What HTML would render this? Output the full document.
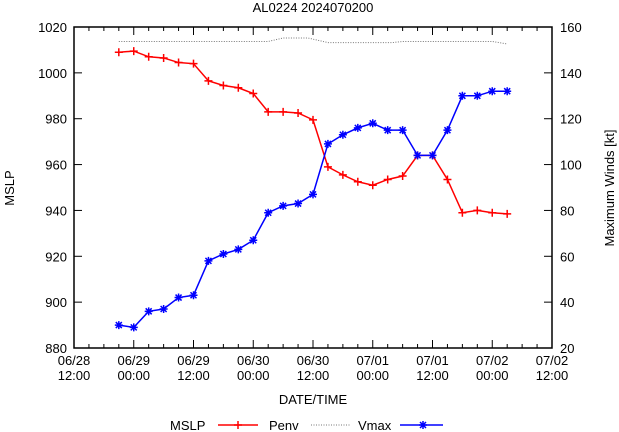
<!DOCTYPE html><html><head><style>body{margin:0;background:#fff}svg{display:block;font-family:"Liberation Sans",sans-serif;font-size:13px}</style></head><body>
<svg width="619" height="432" xmlns="http://www.w3.org/2000/svg">
<text x="313" y="12" text-anchor="middle">AL0224 2024070200</text>
<script>
const s=document.querySelector('svg'),NS='http://www.w3.org/2000/svg';
function e(t,a,txt){const n=document.createElementNS(NS,t);for(const k in a)n.setAttribute(k,a[k]);if(txt!==undefined)n.textContent=txt;s.appendChild(n);return n;}
const L=74,R=552,T=27,B=348;
const X=h=>L+h*(R-L)/96, Y=v=>B-(v-880)*(B-T)/140;
for(let i=0;i<=32;i++){const x=X(i*3),len=i%4==0?8:4;e('line',{x1:x,y1:B,x2:x,y2:B-len,stroke:'#000'});e('line',{x1:x,y1:T,x2:x,y2:T+len,stroke:'#000'});}
const lab=[['06/28','12:00'],['06/29','00:00'],['06/29','12:00'],['06/30','00:00'],['06/30','12:00'],['07/01','00:00'],['07/01','12:00'],['07/02','00:00'],['07/02','12:00']];
lab.forEach((l,i)=>{const x=X(i*12);e('text',{x:x,y:B+17,'text-anchor':'middle'},l[0]);e('text',{x:x,y:B+32,'text-anchor':'middle'},l[1]);});
for(let v=880;v<=1020;v+=20){const y=Y(v);e('line',{x1:L,y1:y,x2:L+8,y2:y,stroke:'#000'});e('text',{x:L-7,y:y+5,'text-anchor':'end'},v);}
for(let v=20;v<=160;v+=20){const y=Y(v+860);e('line',{x1:R,y1:y,x2:R-8,y2:y,stroke:'#000'});e('text',{x:R+8,y:y+5},v);}
e('rect',{x:L,y:T,width:R-L,height:B-T,fill:'none',stroke:'#000','stroke-width':1.5});
e('text',{x:313,y:404,'text-anchor':'middle'},'DATE/TIME');
e('text',{x:14,y:188,'text-anchor':'middle',transform:'rotate(-90 14 188)'},'MSLP');
e('text',{x:614,y:188,'text-anchor':'middle',transform:'rotate(-90 614 188)'},'Maximum Winds [kt]');
const m=[1009,1009.5,1007,1006.5,1004.5,1004,996.5,994.5,993.5,991,983,983,982.5,979.5,959,955.5,952.5,951,953.5,955,964,964,953.5,939,940,939,938.5];
const w=[30,29,36,37,42,43,58,61,63,67,79,82,83,87,109,113,116,118,115,115,104,104,115,130,130,132,132];
const pe=[[9,1013.7],[39,1013.7],[42,1015.2],[47,1015.2],[51,1013.2],[64,1013.2],[66,1013.7],[84,1013.7],[87,1012.6]];
e('polyline',{points:pe.map(p=>X(p[0])+','+Y(p[1])).join(' '),fill:'none',stroke:'#777','stroke-dasharray':'1,1.5'});
e('polyline',{points:m.map((v,i)=>X(9+3*i)+','+Y(v)).join(' '),fill:'none',stroke:'#f00','stroke-width':1.5});
m.forEach((v,i)=>{const x=X(9+3*i),y=Y(v);e('path',{d:`M${x-4} ${y}h8M${x} ${y-4}v8`,stroke:'#f00','stroke-width':1.5});});
e('polyline',{points:w.map((v,i)=>X(9+3*i)+','+Y(v+860)).join(' '),fill:'none',stroke:'#00f','stroke-width':1.5});
w.forEach((v,i)=>{const x=X(9+3*i),y=Y(v+860);e('path',{d:`M${x-4} ${y}h8M${x} ${y-4}v8M${x-3} ${y-3}l6 6M${x-3} ${y+3}l6 -6`,stroke:'#00f','stroke-width':1.5});});
e('text',{x:170,y:430},'MSLP');e('line',{x1:218,y1:425,x2:258,y2:425,stroke:'#f00','stroke-width':1.5});e('path',{d:'M234 425h8M238 421v8',stroke:'#f00','stroke-width':1.5});
e('text',{x:269,y:430},'Penv');e('line',{x1:311,y1:425,x2:351,y2:425,stroke:'#777','stroke-dasharray':'1,1.5'});
e('text',{x:358,y:430},'Vmax');e('line',{x1:400,y1:425,x2:443,y2:425,stroke:'#00f','stroke-width':1.5});e('path',{d:'M419 425h8M423 421v8M420 422l6 6M420 428l6 -6',stroke:'#00f','stroke-width':1.5});
</script>
</svg></body></html>
